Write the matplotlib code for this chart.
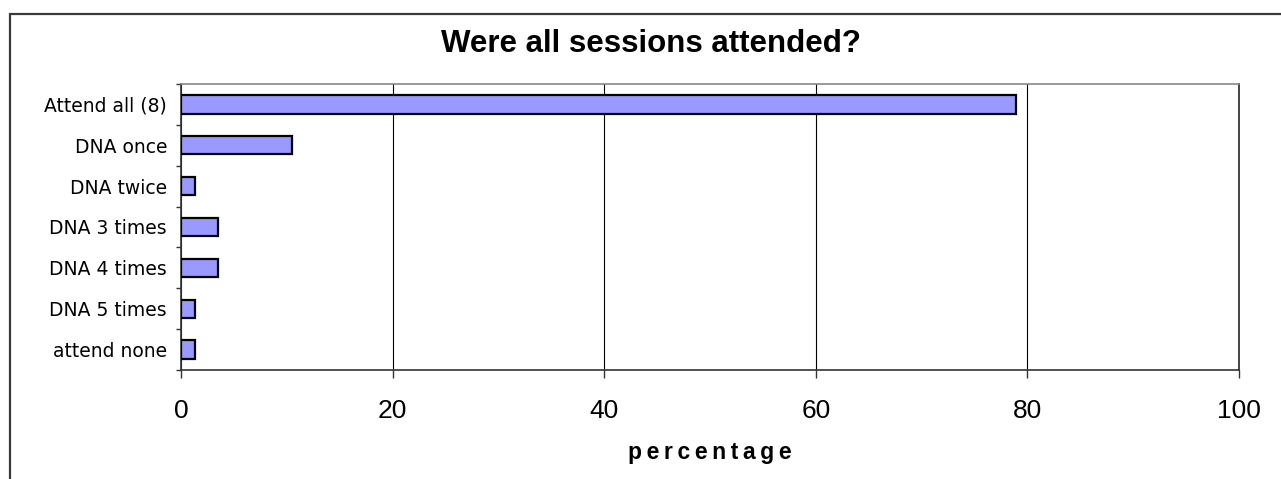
import matplotlib
matplotlib.use("Agg")
import matplotlib.pyplot as plt
from matplotlib.patches import Rectangle
import numpy as np

categories = ["Attend all (8)", "DNA once", "DNA twice", "DNA 3 times",
              "DNA 4 times", "DNA 5 times", "attend none"]
percentages = [78.9, 10.5, 1.3, 3.5, 3.5, 1.3, 1.3]
x_ticks = [0, 20, 40, 60, 80, 100]

W, H = 1281, 479
fig = plt.figure(figsize=(W / 100, H / 100), dpi=100)
ax = fig.add_axes([181 / W, 1 - 370 / H, (1239 - 181) / W, (370 - 84) / H])

# outer chart frame, cut off at the right and bottom edges
fig.patches.append(Rectangle((10 / W, -0.2), 1.5, 1.2 - 14 / H,
                             transform=fig.transFigure, fill=False,
                             edgecolor="#3a3a3a", linewidth=1.6))

y = np.arange(len(categories))
ax.barh(y, percentages, height=0.45, color="#9999ff",
        edgecolor="black", linewidth=1.6, zorder=3)

ax.set_xlim(0, 100)
ax.set_ylim(len(categories) - 0.5, -0.5)
ax.set_xticks(x_ticks)
ax.set_xticklabels([str(t) for t in x_ticks], fontsize=19,
                   family="Liberation Sans")
ax.tick_params(axis="x", length=6, width=1, color="#333333", pad=15)

ax.set_yticks(y)
ax.set_yticklabels(categories, fontsize=13.5, family="DejaVu Sans")
ax.set_yticks(np.arange(len(categories) + 1) - 0.5, minor=True)
ax.tick_params(axis="y", which="major", length=0, pad=10)
ax.tick_params(axis="y", which="minor", length=3.5, width=1, color="#333333")

ax.grid(axis="x", color="black", linewidth=0.8, zorder=0)

for side in ("left", "bottom"):
    ax.spines[side].set_color("#333333")
    ax.spines[side].set_linewidth(1.2)
ax.spines["top"].set_color("#888888")
ax.spines["top"].set_linewidth(1.2)
ax.spines["right"].set_color("#444444")
ax.spines["right"].set_linewidth(1.4)

fig.text(651 / W, 1 - 44 / H, "Were all sessions attended?",
         ha="center", va="center", fontsize=22.5, fontweight="bold",
         family="Liberation Sans")
fig.text(710 / W, 1 - 452 / H, "p e r c e n t a g e".replace(" ", "\u2009"),
         ha="center", va="center", fontsize=16.5, fontweight="bold",
         family="Liberation Sans")

fig.savefig("out.png", dpi=100)
